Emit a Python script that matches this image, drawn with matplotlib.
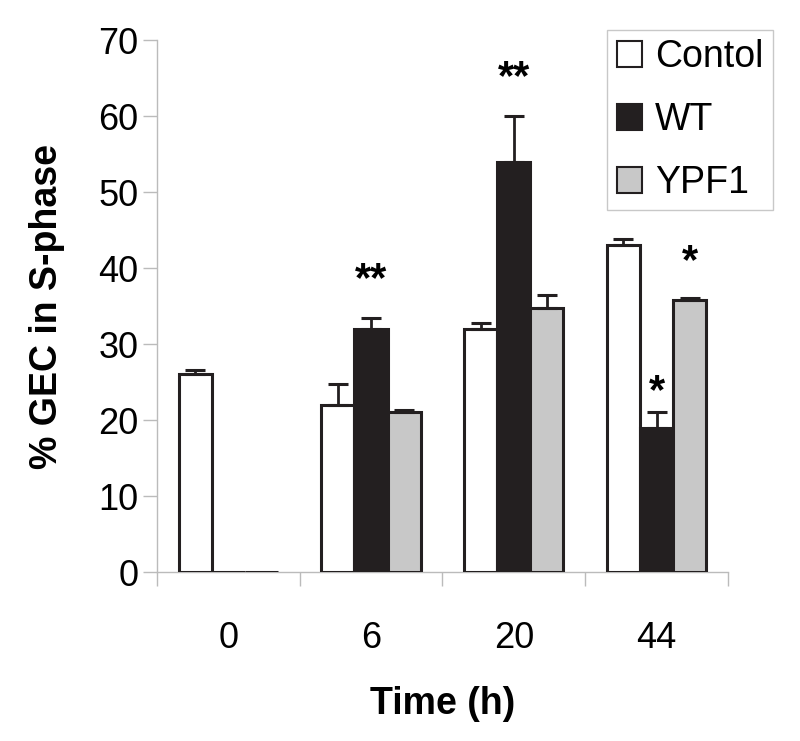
import numpy as np
import matplotlib
matplotlib.use("Agg")
from matplotlib import pyplot as plt
from matplotlib.patches import Patch

plt.rcParams['font.family'] = ['Liberation Sans', 'DejaVu Sans']

# data
times = ['0', '6', '20', '44']
control = [26.0, 22.0, 32.0, 43.0]
wt = [0.0, 32.0, 54.0, 19.0]
ypf1 = [0.0, 21.0, 34.8, 35.8]
control_err = [0.6, 2.8, 0.8, 0.8]
wt_err = [0.0, 1.4, 6.0, 2.1]
ypf1_err = [0.0, 0.3, 1.7, 0.3]
# significance marks: (group index, series index, label, baseline y)
stars = [(1, 1, '**', 37.0), (2, 1, '**', 63.5), (3, 1, '*', 22.2), (3, 2, '*', 39.3)]

series = [control, wt, ypf1]
errs = [control_err, wt_err, ypf1_err]
names = ['Contol', 'WT', 'YPF1']
colors = ['white', '#231f20', '#c8c8c8']
edge = '#231f20'

fig = plt.figure(figsize=(8, 7.41), dpi=100)
ax = fig.add_axes([0.196, 0.228, 0.714, 0.718])

x = np.arange(len(times))
w = 0.232
for i, (vals, e, c) in enumerate(zip(series, errs, colors)):
    pos = x + (i - 1) * w
    ax.bar(pos, vals, w, color=c, edgecolor=edge, linewidth=2.2, zorder=3)
    keep = [j for j in range(len(vals)) if e[j] > 0]
    ax.errorbar(pos[keep], np.array(vals)[keep], yerr=[np.zeros(len(keep)), np.array(e)[keep]],
                fmt='none', ecolor=edge, elinewidth=2.0, capsize=7, capthick=2.2, zorder=4)

for g, s, lab, y in stars:
    ax.text(x[g] + (s - 1) * w, y, lab, ha='center', va='baseline', fontsize=30,
            fontweight='bold', color='black')

ax.set_xlim(-0.5, 3.5)
ax.set_ylim(0, 70)
ax.set_yticks(range(0, 71, 10))
ax.set_xticks(x)
ax.set_xticklabels(times)
ax.set_xticks(np.arange(-0.5, 3.6, 1), minor=True)
ax.tick_params(axis='x', which='major', length=0, pad=35, labelsize=26)
ax.tick_params(axis='x', which='minor', length=10, color='#bbbbbb', width=1)
ax.tick_params(axis='y', length=10, color='#bbbbbb', width=1, pad=3, labelsize=26)
for sp in ['top', 'right']:
    ax.spines[sp].set_visible(False)
for sp in ['left', 'bottom']:
    ax.spines[sp].set_color('#bbbbbb')
    ax.spines[sp].set_linewidth(1)

ax.set_xlabel('Time (h)', fontsize=27, fontweight='bold', labelpad=22)
ax.set_ylabel('% GEC in S-phase', fontsize=27, fontweight='bold', labelpad=24)

handles = [Patch(facecolor=c, edgecolor=edge, linewidth=1.5) for c in colors]
leg = fig.legend(handles, names, loc='upper right', bbox_to_anchor=(0.966, 0.96),
                 fontsize=27, frameon=True, fancybox=False, handlelength=0.67,
                 handleheight=0.67, handletextpad=0.35, labelspacing=0.72,
                 borderpad=0.25, borderaxespad=0)
leg.get_frame().set_edgecolor('#bbbbbb')
leg.get_frame().set_linewidth(1)

fig.savefig('out.png', dpi=100)
